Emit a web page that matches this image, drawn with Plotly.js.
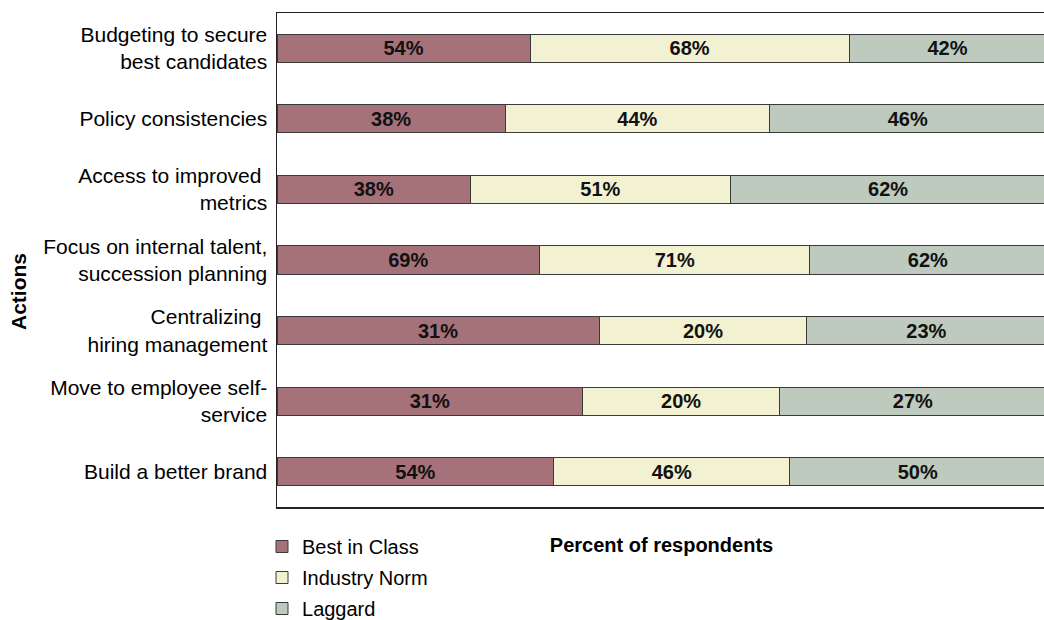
<!DOCTYPE html>
<html>
<head>
<meta charset="utf-8">
<script src="https://cdn.plot.ly/plotly-3.0.1.min.js"></script>
<style>
  html, body { margin: 0; padding: 0; width: 1044px; height: 620px; overflow: hidden; background: #fff; }
  #chart { width: 1046px; height: 620px; }
</style>
</head>
<body>
<div id="chart"></div>
<script>
const categories = [
  'Budgeting to secure<br>best candidates',
  'Policy consistencies',
  'Access to improved <br>metrics',
  'Focus on internal talent,<br>succession planning',
  'Centralizing <br>hiring management',
  'Move to employee self-<br>service',
  'Build a better brand'
];
const bestInClass  = [54, 38, 38, 69, 31, 31, 54];
const industryNorm = [68, 44, 51, 71, 20, 20, 46];
const laggard      = [42, 46, 62, 62, 23, 27, 50];

const seriesNames  = ['Best in Class', 'Industry Norm', 'Laggard'];
const seriesColors = ['#A5727A', '#F2F2D2', '#BDCABD'];
const seriesValues = [bestInClass, industryNorm, laggard];

const FONT = 'Liberation Sans, Arial, sans-serif';

const traces = seriesValues.map((vals, i) => ({
  type: 'bar',
  orientation: 'h',
  name: seriesNames[i],
  y: categories,
  x: vals,
  width: 0.4,
  text: vals.map(v => v + '%'),
  textposition: 'inside',
  insidetextanchor: 'middle',
  textangle: 0,
  textfont: { family: FONT, size: 20, color: '#111', weight: 'bold' },
  marker: { color: seriesColors[i], line: { color: '#3a3a3a', width: 1 } },
  legendgroup: 'g' + i,
  hoverinfo: 'skip'
}));

const layout = {
  width: 1046,
  height: 620,
  margin: { l: 277, r: 0, t: 13, b: 113, autoexpand: false },
  barmode: 'stack',
  barnorm: 'percent',
  paper_bgcolor: '#fff',
  plot_bgcolor: '#fff',
  font: { family: FONT, size: 20, color: '#000' },
  showlegend: true,
  legend: {
    orientation: 'v',
    x: -0.0195, xanchor: 'left',
    y: -0.0405, yanchor: 'top',
    traceorder: 'grouped',
    tracegroupgap: 2,
    font: { family: FONT, size: 20, color: '#000' },
    bgcolor: 'rgba(0,0,0,0)'
  },
  xaxis: {
    range: [0, 100],
    showticklabels: false,
    ticks: '',
    showgrid: false,
    zeroline: false,
    showline: true,
    mirror: true,
    linecolor: '#222',
    linewidth: 1.5,
    fixedrange: true,
    title: { text: '<b>Percent of respondents</b>', font: { family: FONT, size: 20, color: '#000' }, standoff: 30 }
  },
  yaxis: {
    type: 'category',
    autorange: 'reversed',
    ticks: '',
    ticklabelstandoff: 4,
    showgrid: false,
    zeroline: false,
    showline: true,
    mirror: true,
    linecolor: '#222',
    linewidth: 1.5,
    fixedrange: true,
    tickfont: { family: FONT, size: 21, color: '#000' }
  },
  annotations: [{
    text: '<b>Actions</b>',
    textangle: -90,
    xref: 'paper', yref: 'paper',
    x: -(277 - 18) / 769, y: 1 - (292 - 13) / 494,
    xanchor: 'center', yanchor: 'middle',
    showarrow: false,
    font: { family: FONT, size: 21, color: '#000' }
  }]
};

Plotly.newPlot('chart', traces, layout, { displayModeBar: false, staticPlot: true });
</script>
</body>
</html>
